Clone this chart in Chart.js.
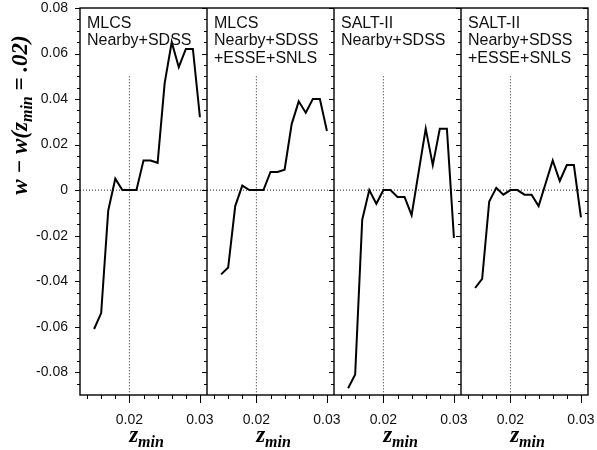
<!DOCTYPE html>
<html>
<head>
<meta charset="utf-8">
<script src="https://cdn.jsdelivr.net/npm/chart.js@4.4.1/dist/chart.umd.min.js"></script>
<style>
  html, body { margin: 0; padding: 0; background: #fff; }
  #wrap { width: 597px; height: 450px; }
</style>
</head>
<body>
<div id="wrap"><canvas id="grafico" width="597" height="450"></canvas></div>
<script>
/* valores: w - w(zmin = .02) em função de zmin */
const zMin = [0.015, 0.016, 0.017, 0.018, 0.019, 0.020, 0.021, 0.022,
              0.023, 0.024, 0.025, 0.026, 0.027, 0.028, 0.029, 0.030];

const mlcsNearby = [-0.061, -0.054, -0.009, 0.005, 0, 0, 0, 0.013,
                    0.013, 0.012, 0.047, 0.065, 0.054, 0.062, 0.062, 0.032];
const mlcsAll    = [-0.037, -0.034, -0.007, 0.002, 0, 0, 0, 0.008,
                    0.008, 0.009, 0.029, 0.039, 0.034, 0.040, 0.040, 0.026];
const saltNearby = [-0.087, -0.081, -0.013, 0, -0.006, 0, 0, -0.003,
                    -0.003, -0.011, 0.008, 0.027, 0.011, 0.027, 0.027, -0.021];
const saltAll    = [-0.043, -0.039, -0.005, 0.001, -0.002, 0, 0, -0.002,
                    -0.002, -0.007, 0.003, 0.013, 0.004, 0.011, 0.011, -0.012];

const panelLabels = [
  ["MLCS", "Nearby+SDSS"],
  ["MLCS", "Nearby+SDSS", "+ESSE+SNLS"],
  ["SALT-II", "Nearby+SDSS"],
  ["SALT-II", "Nearby+SDSS", "+ESSE+SNLS"],
];

const xRange = [0.013, 0.031];
const yRange = [-0.09, 0.08];
const xLabelTicks = [0.02, 0.03];
const xMinorTicks = [0.014, 0.016, 0.018, 0.020, 0.022, 0.024, 0.026, 0.028, 0.030];
const yLabelTicks = [-0.08, -0.06, -0.04, -0.02, 0, 0.02, 0.04, 0.06, 0.08];

// linhas de referência pontilhadas
const refW = 0;
const refZ = 0.02;
const refZTop = 0.05;

const series = [mlcsNearby, mlcsAll, saltNearby, saltAll];
const painelIds = ["x0", "x1", "x2", "x3"];

const SANS = 'Arial, "Liberation Sans", sans-serif';
const SERIF = '"Times New Roman", "Liberation Serif", serif';
const TINTA = "#111";

Chart.defaults.font.family = SANS;

/* ---------------- datasets ---------------- */
const datasets = [];
series.forEach((vals, i) => {
  const xid = painelIds[i];
  datasets.push({
    data: zMin.map((z, k) => ({ x: z, y: vals[k] })),
    xAxisID: xid, yAxisID: "y",
    borderColor: "#000", borderWidth: 2, pointRadius: 0, tension: 0, order: 0,
  });
  datasets.push({
    data: [{ x: xRange[0], y: refW }, { x: xRange[1], y: refW }],
    xAxisID: xid, yAxisID: "y",
    borderColor: "#222", borderWidth: 1, borderDash: [1, 2], pointRadius: 0, order: 1,
  });
  datasets.push({
    data: [{ x: refZ, y: refZTop }, { x: refZ, y: yRange[0] }],
    xAxisID: xid, yAxisID: "y",
    borderColor: "#222", borderWidth: 1, borderDash: [1, 2], pointRadius: 0, order: 1,
  });
});

/* ---------------- escalas ---------------- */
const scales = {
  y: {
    type: "linear", position: "left", min: yRange[0], max: yRange[1],
    grid: { display: false, drawTicks: false }, border: { display: false },
    afterBuildTicks: (s) => { s.ticks = yLabelTicks.map((v) => ({ value: v })); },
    afterFit: (s) => { s.width = 80; s.paddingTop = 0; s.paddingBottom = 0; },
    ticks: {
      padding: 12, color: TINTA, font: { size: 14 },
      callback: (v) => (v === 0 ? "0" : v.toFixed(2)),
    },
  },
};
painelIds.forEach((id) => {
  scales[id] = {
    type: "linear", position: "bottom", stack: "paineis", stackWeight: 1,
    min: xRange[0], max: xRange[1],
    grid: { display: false, drawTicks: false }, border: { display: false },
    afterBuildTicks: (s) => { s.ticks = xLabelTicks.map((v) => ({ value: v })); },
    afterFit: (s) => { s.height = 55; s.paddingLeft = 0; s.paddingRight = 0; },
    ticks: {
      padding: 17, maxRotation: 0, autoSkip: false, color: TINTA, font: { size: 14 },
      callback: (v) => v.toFixed(2),
    },
  };
});

/* ---------------- molduras, marcas e títulos ---------------- */
function textoComposto(ctx, partes, x, y) {
  let total = 0;
  partes.forEach((p) => {
    ctx.font = `italic bold ${p.size}px ${SERIF}`;
    p.w = ctx.measureText(p.t).width;
    total += p.w;
  });
  let cx = x - total / 2;
  partes.forEach((p) => {
    ctx.font = `italic bold ${p.size}px ${SERIF}`;
    ctx.fillText(p.t, cx, y + p.dy);
    cx += p.w;
  });
}

const molduraPaineis = {
  id: "molduraPaineis",
  afterDatasetsDraw(chart) {
    const { ctx, chartArea: a, scales: sc } = chart;
    const y = sc.y;
    ctx.save();
    ctx.strokeStyle = "#000";
    ctx.lineWidth = 1.4;
    ctx.strokeRect(a.left, a.top, a.width, a.height);

    const bordas = [a.left];
    painelIds.forEach((id) => bordas.push(sc[id].right));
    ctx.beginPath();
    bordas.slice(1, -1).forEach((bx) => { ctx.moveTo(bx, a.top); ctx.lineTo(bx, a.bottom); });
    ctx.stroke();

    // marcas do eixo y em cada divisória, para a esquerda
    ctx.lineWidth = 1;
    ctx.beginPath();
    for (let v = yRange[0] + 0.005; v < yRange[1] + 1e-9; v += 0.005) {
      const major = Math.abs(v / 0.02 - Math.round(v / 0.02)) < 1e-6;
      const py = Math.round(y.getPixelForValue(v)) + 0.5;
      const len = major ? 5 : 3;
      bordas.forEach((bx) => { ctx.moveTo(bx - len, py); ctx.lineTo(bx, py); });
    }
    // marcas do eixo x, para baixo
    painelIds.forEach((id) => {
      xMinorTicks.forEach((v) => {
        const px = Math.round(sc[id].getPixelForValue(v)) + 0.5;
        const major = xLabelTicks.some((t) => Math.abs(t - v) < 1e-9);
        ctx.moveTo(px, a.bottom);
        ctx.lineTo(px, a.bottom + (major ? 8 : 4));
      });
    });
    ctx.stroke();

    // rótulos dos painéis
    ctx.fillStyle = TINTA;
    ctx.font = `16px ${SANS}`;
    ctx.textBaseline = "alphabetic";
    ctx.textAlign = "left";
    painelIds.forEach((id, i) => {
      panelLabels[i].forEach((linha, k) => ctx.fillText(linha, sc[id].left + 7, 27.5 + k * 17.7));
    });

    // títulos dos eixos
    ctx.fillStyle = "#000";
    painelIds.forEach((id) => {
      const cx = (sc[id].left + sc[id].right) / 2 + 3;
      textoComposto(ctx, [{ t: "z", size: 23, dy: 0 }, { t: "min", size: 16, dy: 5 }], cx, 442);
    });
    ctx.translate(27, 115);
    ctx.rotate(-Math.PI / 2);
    textoComposto(ctx, [
      { t: "w \u2212 w(z", size: 23, dy: 0 },
      { t: "min", size: 16, dy: 5 },
      { t: " = .02)", size: 23, dy: 0 },
    ], 0, 0);
    ctx.restore();
  },
};

new Chart(document.getElementById("grafico"), {
  type: "line",
  data: { datasets },
  options: {
    responsive: false, animation: false, events: [],
    parsing: true,
    layout: { padding: { top: 8, right: 9, left: 0, bottom: 0 } },
    plugins: { legend: { display: false }, tooltip: { enabled: false } },
    scales,
  },
  plugins: [molduraPaineis],
});
</script>
</body>
</html>
